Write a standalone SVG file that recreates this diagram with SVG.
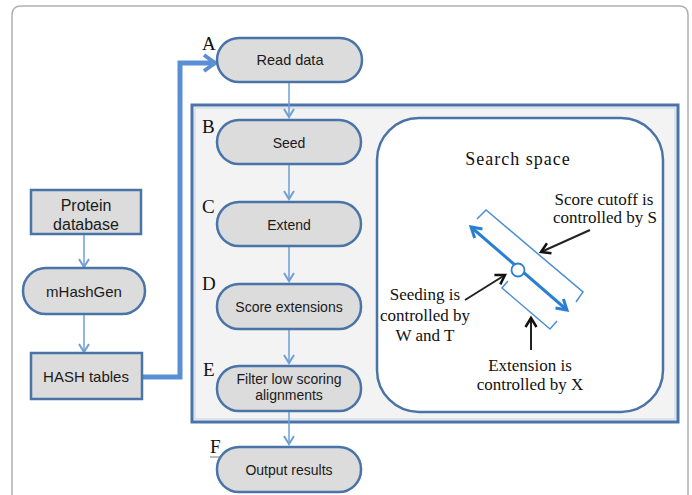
<svg xmlns="http://www.w3.org/2000/svg" width="692" height="495" viewBox="0 0 692 495">
<defs>
<style>
.pill{fill:#dcdcdc;stroke:#4a74a8;stroke-width:2.5}
.sans{font-family:"Liberation Sans",Arial,sans-serif;fill:#1a1a1a;text-anchor:middle}
.serif{font-family:"Liberation Serif","Times New Roman",serif;fill:#111}
.lbl{font-family:"Liberation Serif","Times New Roman",serif;font-size:19px;fill:#111}
.ann{font-family:"Liberation Serif","Times New Roman",serif;font-size:17px;fill:#111;text-anchor:middle}
.thin{stroke:#6f9fd6;stroke-width:1.5;fill:none;marker-end:url(#chev)}
.blk{stroke:#222;stroke-width:2;fill:none;marker-end:url(#blkhead)}
.brk{stroke:#4b8fd3;stroke-width:1.5;fill:none}
</style>
<marker id="chev" markerUnits="userSpaceOnUse" markerWidth="14" markerHeight="14" refX="10" refY="6" orient="auto" viewBox="0 0 14 14">
<path d="M2,1 L10,6 L2,11" fill="none" stroke="#6f9fd6" stroke-width="2"/>
</marker>
<marker id="thick" markerUnits="userSpaceOnUse" markerWidth="20" markerHeight="20" refX="14" refY="10" orient="auto" viewBox="0 0 20 20">
<path d="M3,2 L14,10 L3,18" fill="none" stroke="#5b8fd4" stroke-width="4"/>
</marker>
<marker id="blkhead" markerUnits="userSpaceOnUse" markerWidth="14" markerHeight="14" refX="11" refY="7" orient="auto" viewBox="0 0 14 14">
<path d="M2,1.5 L11,7 L2,12.5" fill="none" stroke="#111" stroke-width="2.5"/>
</marker>
<marker id="bluehead" markerUnits="userSpaceOnUse" markerWidth="16" markerHeight="16" refX="12" refY="8" orient="auto" viewBox="0 0 16 16">
<path d="M2,2 L12,8 L2,14" fill="none" stroke="#2a7fd0" stroke-width="3"/>
</marker>
<marker id="bluestart" markerUnits="userSpaceOnUse" markerWidth="16" markerHeight="16" refX="4" refY="8" orient="auto" viewBox="0 0 16 16">
<path d="M14,2 L4,8 L14,14" fill="none" stroke="#2a7fd0" stroke-width="3"/>
</marker>
</defs>

<path d="M12,500 V15 Q12,6 21,6 H679 Q688,6 688,15 V500" fill="#fff" stroke="#b0b0b0" stroke-width="1.5"/>

<g id="mainbox">
<rect x="192" y="105" width="486" height="317" fill="#f3f3f3" stroke="#4a74a8" stroke-width="3"/>
<rect x="195" y="108" width="480" height="311" fill="none" stroke="#c4d4e8" stroke-width="1"/>
</g>

<g id="connectors">
<path d="M142,377 H180 V63 H215" fill="none" stroke="#5b8fd4" stroke-width="5" marker-end="url(#thick)"/>
<line class="thin" x1="84" y1="234" x2="84" y2="267"/>
<line class="thin" x1="84" y1="314" x2="84" y2="352"/>
<line class="thin" x1="289" y1="82" x2="289" y2="117"/>
<line class="thin" x1="289" y1="164" x2="289" y2="199"/>
<line class="thin" x1="289" y1="246" x2="289" y2="281"/>
<line class="thin" x1="289" y1="329" x2="289" y2="363"/>
<line class="thin" x1="289" y1="411" x2="289" y2="444"/>
</g>

<g id="protein">
<rect x="31" y="190" width="110" height="44" fill="#dcdcdc" stroke="#4a74a8" stroke-width="2.5"/>
<text class="sans" font-size="16" x="86" y="211">Protein</text>
<text class="sans" font-size="16" x="86" y="230">database</text>
</g>
<g id="mhashgen">
<rect class="pill" x="23" y="268" width="122" height="46" rx="23"/>
<text class="sans" font-size="15" x="84" y="297">mHashGen</text>
</g>
<g id="hash">
<rect x="31" y="353" width="111" height="46" fill="#dcdcdc" stroke="#4a74a8" stroke-width="2.5"/>
<text class="sans" font-size="15" x="86" y="382">HASH tables</text>
</g>

<g id="read">
<rect class="pill" x="217" y="38" width="145" height="44" rx="22"/>
<text class="sans" font-size="14.5" x="290" y="65">Read data</text>
<text class="lbl" x="202" y="50">A</text>
</g>
<g id="seed">
<rect class="pill" x="217" y="120" width="144" height="44" rx="22"/>
<text class="sans" font-size="14" x="289" y="148">Seed</text>
<text class="lbl" x="202" y="133">B</text>
</g>
<g id="extend">
<rect class="pill" x="217" y="202" width="144" height="44" rx="22"/>
<text class="sans" font-size="14" x="289" y="230">Extend</text>
<text class="lbl" x="202" y="213">C</text>
</g>
<g id="score">
<rect class="pill" x="217" y="284" width="144" height="45" rx="22"/>
<text class="sans" font-size="14" x="289" y="312">Score extensions</text>
<text class="lbl" x="202" y="290">D</text>
</g>
<g id="filter">
<rect class="pill" x="217" y="366" width="144" height="45" rx="22"/>
<text class="sans" font-size="14" x="289" y="384">Filter low scoring</text>
<text class="sans" font-size="14" x="289" y="400">alignments</text>
<text class="lbl" x="203" y="376">E</text>
</g>
<g id="output">
<rect class="pill" x="217" y="447" width="144" height="45" rx="22"/>
<text class="sans" font-size="14" x="289" y="475">Output results</text>
<text class="lbl" x="210" y="453">F</text>
<line x1="210" y1="457" x2="221" y2="457" stroke="#777" stroke-width="1"/>
</g>

<g id="searchspace">
<rect x="377" y="118" width="286" height="294" rx="42" fill="#fff" stroke="#4a74a8" stroke-width="2.5"/>
<text class="serif" font-size="18" letter-spacing="1" x="518" y="165" text-anchor="middle">Search space</text>
<line x1="471" y1="227" x2="567" y2="310" stroke="#2a7fd0" stroke-width="3" marker-start="url(#bluestart)" marker-end="url(#bluehead)"/>
<circle cx="518" cy="270" r="6.5" fill="#fff" stroke="#2a7fd0" stroke-width="1.8"/>
<path class="brk" d="M477,219 L486,210 L583,292 L576,302"/>
<path class="brk" d="M508,281 L502,288 L550,329 L557,321"/>
<line class="blk" x1="590" y1="230" x2="541" y2="252"/>
<line class="blk" x1="465" y1="300" x2="505" y2="275"/>
<line class="blk" x1="531" y1="350" x2="531" y2="318"/>
<text class="ann" x="604" y="205">Score cutoff is</text>
<text class="ann" x="605" y="223">controlled by S</text>
<text class="ann" x="425" y="300">Seeding is</text>
<text class="ann" x="425" y="321">controlled by</text>
<text class="ann" x="425" y="341">W and T</text>
<text class="ann" x="530" y="371">Extension is</text>
<text class="ann" x="530" y="390">controlled by X</text>
</g>
</svg>
